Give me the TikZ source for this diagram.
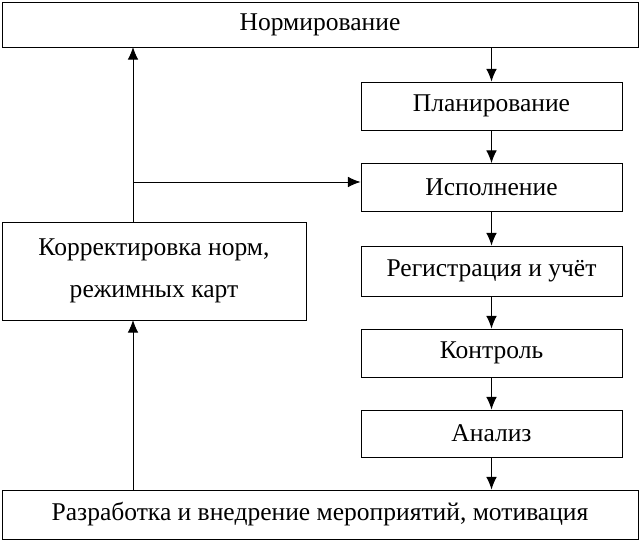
\documentclass[tikz,border=0pt]{standalone}
\usepackage{fontspec}
\setmainfont{Liberation Serif}
\usetikzlibrary{arrows.meta}
\begin{document}
\begin{tikzpicture}[x=0.03cm, y=-0.03cm,
    box/.style={draw, thick, inner sep=0pt, font=\fontsize{21.8}{36}\selectfont},
    stage/.style={box, minimum width=261*0.03cm, minimum height=48*0.03cm},
    arr/.style={-{Latex[length=0.38cm, width=0.32cm]}, thick}]
    \useasboundingbox (0,0) rectangle (640,541);

    \node[box, minimum width=636*0.03cm, minimum height=45*0.03cm] (norm) at (320,24.5) {Нормирование};
    \node[stage] (plan) at (491.5,106) {Планирование};
    \node[stage] (exec) at (491.5,187.5) {Исполнение};
    \node[stage, minimum height=50*0.03cm] (reg) at (491.5,271) {Регистрация и учёт};
    \node[stage] (ctrl) at (491.5,353) {Контроль};
    \node[stage, minimum height=47*0.03cm] (anal) at (491.5,433.5) {Анализ};
    \node[box, minimum width=636*0.03cm, minimum height=49*0.03cm] (dev) at (320,514.5)
        {Разработка и внедрение мероприятий, мотивация};
    \node[box, minimum width=304*0.03cm, minimum height=98*0.03cm, align=center] (corr) at (154,271)
        {Корректировка норм,\\режимных карт};

    % main chain
    \draw[arr] (norm.south -| plan) -- (plan);
    \draw[arr] (plan) -- (exec);
    \draw[arr] (exec) -- (reg);
    \draw[arr] (reg) -- (ctrl);
    \draw[arr] (ctrl) -- (anal);
    \draw[arr] (anal) -- (anal |- dev.north);

    % feedback
    \coordinate (up) at (133,320);
    \coordinate (br) at (133,182);
    \draw[arr] (up |- dev.north) -- (up);
    \draw[arr] (133,222) -- (133,47);
    \draw[arr] (br) -- (br -| exec.west);
\end{tikzpicture}
\end{document}
